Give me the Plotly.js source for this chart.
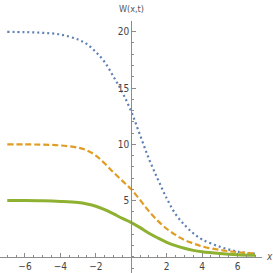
<!DOCTYPE html>
<html>
<head>
<meta charset="utf-8">
<script src="https://cdn.plot.ly/plotly-3.0.1.min.js"></script>
<style>html,body{margin:0;padding:0;background:#fff;}#chart{width:273px;height:273px;}</style>
</head>
<body>
<div id="chart"></div>
<script>
const xs = [-7, -6, -5, -4, -3, -2.5, -2, -1.5, -1, -0.5, 0, 0.5, 1, 1.5, 2, 2.5, 3, 3.5, 4, 5, 6, 7];
const wBlue = [19.98, 19.96, 19.9, 19.75, 19.3, 18.9, 18.2, 17.3, 16.0, 14.6, 12.9, 10.8, 8.7, 6.9, 5.2, 3.8, 2.85, 2.1, 1.55, 0.9, 0.47, 0.28];
const wOrange = [10.0, 9.99, 9.97, 9.9, 9.7, 9.45, 9.0, 8.3, 7.5, 6.75, 6.0, 5.05, 4.05, 3.2, 2.5, 1.95, 1.5, 1.2, 0.93, 0.62, 0.42, 0.3];
const wGreen = [5.0, 5.0, 4.98, 4.93, 4.83, 4.7, 4.5, 4.2, 3.82, 3.42, 3.05, 2.6, 2.1, 1.68, 1.3, 1.0, 0.77, 0.58, 0.45, 0.3, 0.2, 0.15];
const xTicks = [-6, -4, -2, 2, 4, 6];
const yTicks = [5, 10, 15, 20];

const xRange = [-7.41, 7.38];
const yRange = [-1.43, 20.95];
const xAxisPos = (0 - yRange[0]) / (yRange[1] - yRange[0]);
const yAxisPos = (0 - xRange[0]) / (xRange[1] - xRange[0]);

const fontFam = "'Liberation Sans Narrow', 'DejaVu Sans Condensed', 'Liberation Sans', sans-serif";

const traces = [
  {x: xs, y: wBlue, mode: 'lines', line: {color: '#5e81b5', width: 2.2, dash: '2px,3px', shape: 'spline', smoothing: 1}},
  {x: xs, y: wOrange, mode: 'lines', line: {color: '#e19c24', width: 2.2, dash: '6px,3px', shape: 'spline', smoothing: 1}},
  {x: xs, y: wGreen, mode: 'lines', line: {color: '#8fb131', width: 3, shape: 'spline', smoothing: 1}}
];

const layout = {
  width: 273, height: 273,
  margin: {l: 0, r: 10.5, t: 21, b: 0, pad: 0},
  paper_bgcolor: '#fff', plot_bgcolor: '#fff',
  showlegend: false,
  xaxis: {
    range: xRange, anchor: 'free', position: xAxisPos, side: 'bottom',
    showgrid: false, zeroline: false, showline: true, linecolor: '#8c8c8c', linewidth: 1,
    tickmode: 'array', tickvals: xTicks, ticks: 'inside', ticklen: 4, tickcolor: '#8c8c8c',
    minor: {tickmode: 'linear', tick0: 0, dtick: 0.5, ticks: 'inside', ticklen: 2, tickcolor: '#8c8c8c', showgrid: false},
    tickfont: {family: fontFam, size: 10, color: '#444'}, automargin: false, fixedrange: true
  },
  yaxis: {
    range: yRange, anchor: 'free', position: yAxisPos, side: 'left',
    showgrid: false, zeroline: false, showline: true, linecolor: '#8c8c8c', linewidth: 1,
    tickmode: 'array', tickvals: yTicks, ticks: 'inside', ticklen: 4, tickcolor: '#8c8c8c',
    minor: {tickmode: 'linear', tick0: 0, dtick: 1, ticks: 'inside', ticklen: 2, tickcolor: '#8c8c8c', showgrid: false},
    tickfont: {family: fontFam, size: 10, color: '#444'}, automargin: false, fixedrange: true
  },
  annotations: [
    {xref: 'x', yref: 'paper', x: 0, y: 1.048, text: 'W(x,t)', showarrow: false, xanchor: 'center', yanchor: 'middle',
     font: {family: fontFam, size: 9, color: '#555'}},
    {xref: 'paper', yref: 'y', x: 1.03, y: 0, text: '<i>x</i>', showarrow: false, xanchor: 'center', yanchor: 'middle',
     font: {family: fontFam, size: 10, color: '#555'}}
  ]
};

Plotly.newPlot('chart', traces, layout, {staticPlot: true, displayModeBar: false});
</script>
</body>
</html>
